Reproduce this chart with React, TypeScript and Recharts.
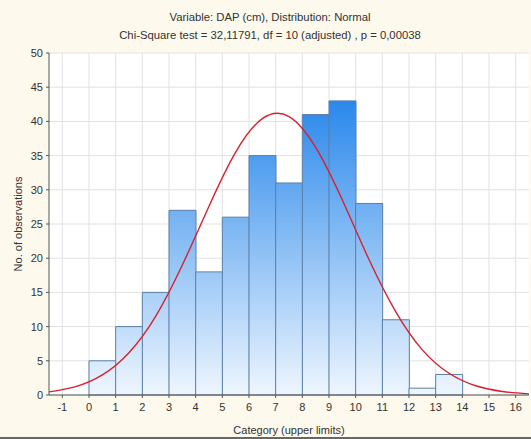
import { ComposedChart, Bar, Line, XAxis, YAxis, CartesianGrid } from "recharts";

// bin centres (category upper limit - 0.5)
const binCenters = [-1.5, -0.5, 0.5, 1.5, 2.5, 3.5, 4.5, 5.5, 6.5, 7.5, 8.5, 9.5, 10.5, 11.5, 12.5, 13.5, 14.5, 15.5, 16.5];
const observed = [null, null, 5, 10, 15, 27, 18, 26, 35, 31, 41, 43, 28, 11, 1, 3, null, null, null];
const normalFit = [0.46, 1.23, 2.94, 6.19, 11.5, 19.0, 27.6, 35.5, 40.4, 40.7, 36.2, 28.5, 19.8, 12.2, 6.6, 3.18, 1.35, 0.51, 0.17];

const xTicks = [-1, 0, 1, 2, 3, 4, 5, 6, 7, 8, 9, 10, 11, 12, 13, 14, 15, 16];
const yTicks = [0, 5, 10, 15, 20, 25, 30, 35, 40, 45, 50];

const data = binCenters.map((x, i) => ({ x, obs: observed[i], fit: normalFit[i] }));

const font = "Arial, 'Liberation Sans', sans-serif";
const tickStyle = { fill: "#333", fontSize: 11, fontFamily: font };

export default function App() {
  return (
    <div style={{ position: "absolute", left: 0, top: 0, width: 531, height: 439, background: "#fdf9ec", borderBottom: "2px solid #666", boxSizing: "border-box" }}>
      <div style={{ position: "absolute", top: 8, left: 0, width: 540, textAlign: "center", fontFamily: font, fontSize: 11.3, color: "#333", lineHeight: "18px" }}>
        <div>Variable: DAP (cm), Distribution: Normal</div>
        <div>Chi-Square test = 32,11791, df = 10 (adjusted) , p = 0,00038</div>
      </div>
      <ComposedChart width={531} height={437} data={data} margin={{ top: 53, right: 2, left: 0, bottom: 0 }} barCategoryGap={0} barGap={0}>
        <defs>
          <linearGradient id="barFill" gradientUnits="userSpaceOnUse" x1="0" y1="53" x2="0" y2="395">
            <stop offset="0%" stopColor="#0a76e8" />
            <stop offset="100%" stopColor="#eef6fe" />
          </linearGradient>
        </defs>
        <CartesianGrid stroke="#e2e2e2" fill="#ffffff" horizontalValues={yTicks} verticalValues={xTicks} />
        <XAxis
          dataKey="x"
          type="number"
          domain={[-1.5, 16.5]}
          ticks={xTicks}
          allowDataOverflow
          height={42}
          stroke="#555"
          tickSize={3}
          tickMargin={5}
          tick={tickStyle}
          label={{ value: "Category (upper limits)", position: "insideBottom", offset: 3, fill: "#333", fontSize: 11, fontFamily: font }}
        />
        <XAxis xAxisId="top" orientation="top" type="number" domain={[-1.5, 16.5]} ticks={xTicks} allowDataOverflow height={0} mirror stroke="#555" tickSize={3} tick={false} />
        <YAxis
          domain={[0, 50]}
          ticks={yTicks}
          width={49}
          stroke="#555"
          tickSize={3}
          tickMargin={3}
          tick={tickStyle}
          label={{ value: "No. of observations", angle: -90, position: "insideLeft", offset: 18, fill: "#333", fontSize: 11, fontFamily: font, style: { textAnchor: "middle" } }}
        />
        <YAxis yAxisId="right" orientation="right" domain={[0, 50]} ticks={yTicks} width={0} mirror stroke="#555" tickSize={3} tick={false} />
        <Bar dataKey="obs" fill="url(#barFill)" stroke="#5b7fa6" strokeWidth={1} isAnimationActive={false} />
        <Line dataKey="fit" type="natural" stroke="#d8202e" strokeWidth={1.4} dot={false} isAnimationActive={false} />
      </ComposedChart>
    </div>
  );
}
